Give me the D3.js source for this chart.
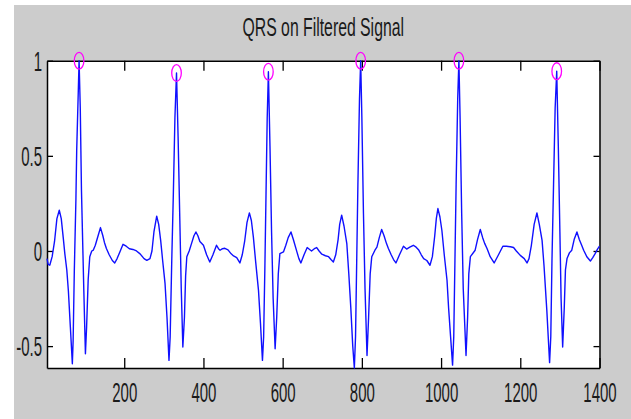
<!DOCTYPE html>
<html>
<head>
<meta charset="utf-8">
<script src="https://cdn.jsdelivr.net/npm/d3@7"></script>
<style>
  html, body { margin: 0; padding: 0; background: #ffffff; }
  svg { display: block; }
  text { font-family: "Liberation Sans", Arial, sans-serif; fill: #1a1a1a; }
</style>
</head>
<body>
<div id="chart"></div>
<script>
// Filtered ECG signal (sample index, amplitude)
const sampleIdx = [
  5, 8, 12, 18, 24, 30, 36, 41, 46, 50, 55, 59, 64, 69,
  71, 74, 78, 80, 84, 86, 89, 92, 98, 102, 105, 109, 113, 118, 122, 127, 134, 140, 146, 150, 155, 162, 170, 176, 182, 190, 197, 205, 213, 222, 231, 240, 250, 257, 265, 270, 275, 282, 287, 292, 297, 303, 308, 313,
  316, 320, 324, 328, 332, 336, 340, 344, 348, 352, 355, 358, 364, 370, 376, 381, 386, 391, 400, 408, 416, 424, 433, 438, 442, 448, 454, 462, 470, 476, 484, 492, 498, 504, 510, 516, 521, 526, 532, 539, 544, 549,
  552, 555, 558, 561, 564, 568, 572, 576, 581, 585, 589, 593, 602, 608, 614, 621, 627, 636, 641, 646, 654, 662, 668, 673, 680, 686, 692, 699, 708, 716, 722, 728, 734, 740, 744, 749, 755, 762, 767, 772, 777, 781,
  784, 787, 790, 794, 797, 800, 804, 808, 813, 817, 821, 825, 833, 838, 844, 850, 856, 862, 867, 874, 880, 886, 895, 905, 913, 921, 930, 937, 943, 950, 956, 964, 972, 978, 984, 988, 992, 997, 1002, 1008, 1015, 1019, 1024, 1029,
  1032, 1035, 1038, 1042, 1045, 1048, 1052, 1056, 1063, 1067, 1070, 1074, 1086, 1092, 1099, 1105, 1110, 1116, 1124, 1134, 1145, 1156, 1165, 1175, 1183, 1190, 1200, 1210, 1217, 1222, 1228, 1235, 1242, 1248, 1255, 1260, 1267, 1274,
  1277, 1280, 1284, 1288, 1292, 1296, 1300, 1303, 1307, 1311, 1314, 1318, 1324, 1330, 1336, 1343, 1349, 1355, 1360, 1368, 1377, 1383, 1389, 1395, 1400
];
const amplitude = [
  -0.04, -0.07, -0.075, -0.03, 0.05, 0.17, 0.214, 0.17, 0.07, -0.014, -0.1, -0.21, -0.4, -0.593,
  -0.47, -0.1, 0.27, 0.53, 0.84, 1.0, 0.75, 0.32, -0.21, -0.54, -0.4, -0.15, -0.03, 0.0, 0.005, 0.03, 0.08, 0.123, 0.08, 0.045, 0.013, -0.02, -0.05, -0.063, -0.04, 0.0, 0.035, 0.025, 0.012, 0.008, 0.0, -0.015, -0.04, -0.049, -0.04, 0.0, 0.1, 0.183, 0.14, 0.056, -0.05, -0.17, -0.35, -0.575,
  -0.45, -0.05, 0.3, 0.7, 0.935, 0.6, 0.2, -0.2, -0.505, -0.35, -0.13, -0.03, 0.0, 0.04, 0.08, 0.1, 0.08, 0.05, 0.03, -0.02, -0.058, -0.02, 0.03, 0.012, 0.004, 0.012, 0.014, 0.006, -0.015, -0.026, -0.035, -0.063, -0.02, 0.05, 0.15, 0.2, 0.16, 0.074, -0.06, -0.207, -0.38, -0.575,
  -0.45, -0.1, 0.3, 0.7, 0.942, 0.55, 0.1, -0.25, -0.514, -0.35, -0.12, -0.014, -0.005, 0.03, 0.07, 0.1, 0.06, -0.005, -0.04, -0.063, -0.02, 0.018, 0.008, 0.0, 0.012, 0.018, 0.0, -0.017, -0.025, -0.03, -0.045, -0.058, -0.02, 0.06, 0.14, 0.188, 0.13, 0.039, -0.12, -0.295, -0.5, -0.615,
  -0.45, -0.05, 0.35, 0.8, 1.0, 0.7, 0.2, -0.2, -0.549, -0.35, -0.12, -0.03, 0.004, 0.02, 0.07, 0.113, 0.08, 0.04, 0.013, -0.02, -0.045, -0.063, -0.02, 0.025, 0.01, 0.02, 0.03, 0.02, 0.007, -0.02, -0.04, -0.05, -0.075, -0.03, 0.08, 0.17, 0.223, 0.18, 0.109, -0.02, -0.154, -0.3, -0.45, -0.6,
  -0.45, -0.05, 0.35, 0.8, 1.0, 0.7, 0.2, -0.2, -0.549, -0.35, -0.12, -0.03, 0.004, 0.06, 0.113, 0.07, 0.04, 0.013, -0.03, -0.063, -0.02, 0.025, 0.025, 0.022, 0.018, 0.0, -0.023, -0.04, -0.063, -0.04, 0.03, 0.14, 0.2, 0.14, 0.056, -0.08, -0.312, -0.587,
  -0.45, -0.05, 0.35, 0.75, 0.945, 0.55, 0.1, -0.25, -0.505, -0.3, -0.1, -0.04, -0.01, 0.004, 0.06, 0.1, 0.06, 0.03, 0.004, -0.03, -0.053, -0.035, -0.014, 0.01, 0.025
];

// detected R peaks
const peakIdx = [86, 332, 564, 797, 1045, 1292];
const peakVal = [1.0, 0.935, 0.942, 1.0, 1.0, 0.945];

const xTicks = [200, 400, 600, 800, 1000, 1200, 1400];
const yTicks = [-0.5, 0, 0.5, 1];
const yTickLabels = ["-0.5", "0", "0.5", "1"];
const title = "QRS on Filtered Signal";

const W = 631, H = 419;
const box = { left: 47, right: 599.5, top: 60.7, bottom: 368 };

const svg = d3.select("#chart").append("svg")
  .attr("width", W)
  .attr("height", H);

// figure background (gray, with a thin white strip top and left)
svg.append("rect")
  .attr("x", 14).attr("y", 5)
  .attr("width", W - 14).attr("height", H - 5)
  .attr("fill", "#cccccc");

svg.append("rect")
  .attr("x", box.left).attr("y", box.top)
  .attr("width", box.right - box.left).attr("height", box.bottom - box.top)
  .attr("fill", "#ffffff");

const x = d3.scaleLinear().domain([5, 1400]).range([box.left, box.right]);
const y = d3.scaleLinear().domain([-0.615, 1]).range([box.bottom, box.top]);

// axes: MATLAB style, ticks pointing inwards on all four sides
function styleAxis(g) {
  g.select(".domain").attr("stroke", "#000").attr("stroke-width", 1.5);
  g.selectAll(".tick line").attr("stroke", "#000").attr("stroke-width", 1.3);
}

svg.append("g")
  .attr("transform", `translate(0,${box.bottom})`)
  .call(d3.axisBottom(x).tickValues(xTicks).tickSizeInner(-10).tickSizeOuter(0).tickFormat(d3.format("d")))
  .call(styleAxis)
  .call(g => g.selectAll(".tick text")
    .attr("y", null).attr("dy", null)
    .attr("transform", "translate(0,34) scale(1,1.8)")
    .style("font-size", "15px")
    .attr("fill", "#1a1a1a"));

svg.append("g")
  .attr("transform", `translate(0,${box.top})`)
  .call(d3.axisTop(x).tickValues(xTicks).tickSizeInner(-10).tickSizeOuter(0).tickFormat(""))
  .call(styleAxis);

svg.append("g")
  .attr("transform", `translate(${box.left},0)`)
  .call(d3.axisLeft(y).tickValues(yTicks).tickSizeInner(-6).tickSizeOuter(0).tickFormat((d, i) => yTickLabels[i]))
  .call(styleAxis)
  .call(g => g.selectAll(".tick text")
    .attr("x", null).attr("dy", null)
    .attr("text-anchor", "end")
    .attr("transform", "translate(-5,9.5) scale(1,1.8)")
    .style("font-size", "15px")
    .attr("fill", "#1a1a1a"));

svg.append("g")
  .attr("transform", `translate(${box.right},0)`)
  .call(d3.axisRight(y).tickValues(yTicks).tickSizeInner(-6).tickSizeOuter(0).tickFormat(""))
  .call(styleAxis);

// signal
const pts = sampleIdx.map((s, i) => [s, amplitude[i]]);
svg.append("path")
  .datum(pts)
  .attr("fill", "none")
  .attr("stroke", "#1010ff")
  .attr("stroke-width", 1.4)
  .attr("stroke-linejoin", "round")
  .attr("d", d3.line().x(d => x(d[0])).y(d => y(d[1])));

// R peak markers
svg.selectAll(".peak")
  .data(peakIdx.map((s, i) => [s, peakVal[i]]))
  .join("ellipse")
    .attr("class", "peak")
    .attr("cx", d => x(d[0]))
    .attr("cy", d => y(d[1]))
    .attr("rx", 4.8)
    .attr("ry", 8.4)
    .attr("fill", "none")
    .attr("stroke", "#ff00ff")
    .attr("stroke-width", 1.3);

svg.append("text")
  .attr("text-anchor", "middle")
  .attr("transform", `translate(${(box.left + box.right) / 2},35.5) scale(1,1.6)`)
  .style("font-size", "15.8px")
  .text(title);
</script>
</body>
</html>
